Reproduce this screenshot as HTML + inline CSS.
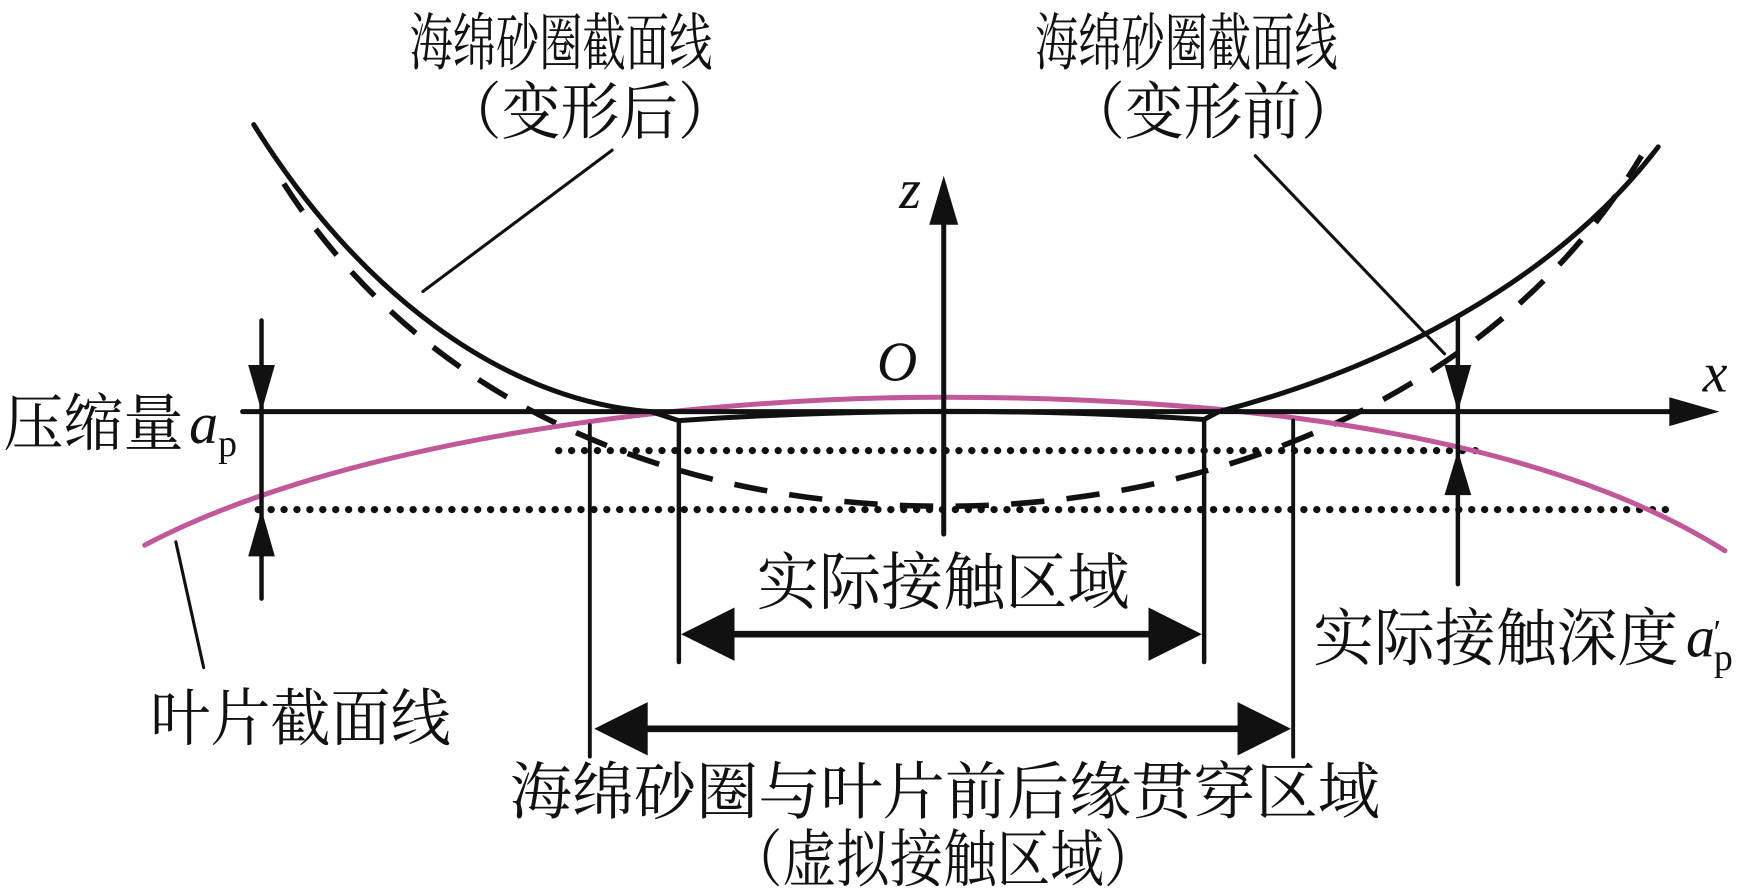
<!DOCTYPE html>
<html><head><meta charset="utf-8"><style>
html,body{margin:0;padding:0;background:#fff}
svg{display:block}
text{font-family:"Liberation Serif","Noto Serif CJK SC","Noto Sans CJK SC",serif;fill:#111}
.it{font-style:italic}
</style></head><body>
<svg width="1745" height="889" viewBox="0 0 1568 799" preserveAspectRatio="none" xmlns="http://www.w3.org/2000/svg">
<g stroke="#111" fill="none" stroke-linecap="round">
<line x1="502" y1="405" x2="1330" y2="405" stroke-width="6.5" stroke-dasharray="0.1 11.5"/>
<line x1="232" y1="458" x2="1500" y2="458" stroke-width="6.5" stroke-dasharray="0.1 11.5"/>
<path d="M255,165 C380,360 600,455 848,455 C1100,455 1350,350 1475,140" stroke-width="5" stroke-dasharray="30 20" stroke-linecap="butt"/>
<path d="M130,490 C300,400 600,357 848,357 C1150,357 1400,400 1550,495" stroke="#c0589a" stroke-width="4.5"/>
<path d="M228,112 C320,260 450,360 585,370 L610,378 Q848,362 1082,377 L1095,370 C1250,330 1400,250 1490,132" stroke-width="4.5"/>
<line x1="218" y1="370" x2="1505" y2="370" stroke-width="4.5"/>
<path d="M1500,357 L1545,370 L1500,383 z" fill="#111" stroke="none"/>
<line x1="848" y1="480" x2="848" y2="195" stroke-width="4.5"/>
<path d="M835,202 L848,158 L861,202 z" fill="#111" stroke="none"/>
<line x1="235" y1="288" x2="235" y2="538" stroke-width="4"/>
<path d="M223,328 L235,370 L247,328 z" fill="#111" stroke="none"/>
<path d="M223,500 L235,458 L247,500 z" fill="#111" stroke="none"/>
<line x1="1310" y1="285" x2="1310" y2="525" stroke-width="4"/>
<path d="M1298,328 L1310,370 L1322,328 z" fill="#111" stroke="none"/>
<path d="M1298,445 L1310,405 L1322,445 z" fill="#111" stroke="none"/>
<line x1="530" y1="382" x2="530" y2="680" stroke-width="3.5"/>
<line x1="610" y1="378" x2="610" y2="595" stroke-width="4"/>
<line x1="1082" y1="377" x2="1082" y2="595" stroke-width="4"/>
<line x1="1162" y1="378" x2="1162" y2="680" stroke-width="3.5"/>
<line x1="640" y1="570" x2="1052" y2="570" stroke-width="6"/>
<path d="M660,546 L612,570 L660,594 z" fill="#111" stroke="none"/>
<path d="M1032,546 L1080,570 L1032,594 z" fill="#111" stroke="none"/>
<line x1="560" y1="655" x2="1132" y2="655" stroke-width="6"/>
<path d="M582,631 L534,655 L582,679 z" fill="#111" stroke="none"/>
<path d="M1112,631 L1160,655 L1112,679 z" fill="#111" stroke="none"/>
<line x1="550" y1="135" x2="380" y2="262" stroke-width="2.8"/>
<line x1="1128" y1="140" x2="1298" y2="318" stroke-width="2.8"/>
<line x1="158" y1="487" x2="183" y2="600" stroke-width="2.8"/>
</g>
<g font-size="56">
<text x="368" y="58" textLength="272" lengthAdjust="spacingAndGlyphs">海绵砂圈截面线</text>
<text x="398" y="120" textLength="264" lengthAdjust="spacingAndGlyphs">（变形后）</text>
<text x="930" y="58" textLength="272" lengthAdjust="spacingAndGlyphs">海绵砂圈截面线</text>
<text x="958" y="120" textLength="264" lengthAdjust="spacingAndGlyphs">（变形前）</text>
<text x="3" y="400" textLength="162" lengthAdjust="spacingAndGlyphs">压缩量</text>
<text x="680" y="543" textLength="335" lengthAdjust="spacingAndGlyphs">实际接触区域</text>
<text x="1180" y="593" textLength="328" lengthAdjust="spacingAndGlyphs">实际接触深度</text>
<text x="135" y="665" textLength="270" lengthAdjust="spacingAndGlyphs">叶片截面线</text>
<text x="458" y="731" textLength="782" lengthAdjust="spacingAndGlyphs">海绵砂圈与叶片前后缘贯穿区域</text>
<text x="655" y="792" textLength="385" lengthAdjust="spacingAndGlyphs">（虚拟接触区域）</text>
</g>
<text x="170" y="398" class="it" font-size="52">a</text><text x="196" y="410" font-size="34">p</text>
<text x="1515" y="590" class="it" font-size="52">a</text><text x="1538" y="578" font-size="30" class="it">′</text><text x="1540" y="602" font-size="34">p</text>
<text x="808" y="187" class="it" font-size="50">z</text>
<text x="788" y="342" class="it" font-size="50">O</text>
<text x="1530" y="352" class="it" font-size="50">x</text>
</svg>
</body></html>
